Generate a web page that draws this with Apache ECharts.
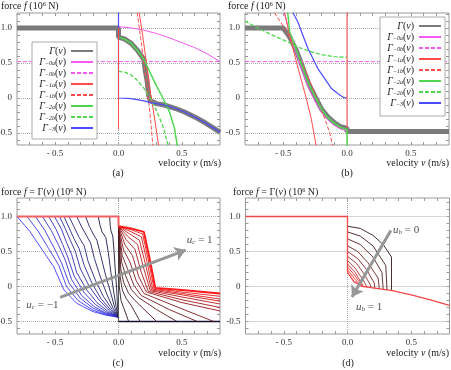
<!DOCTYPE html>
<html>
<head>
<meta charset="utf-8">
<script src="https://cdn.jsdelivr.net/npm/echarts@6/dist/echarts.min.js"></script>
<style>
  html, body { margin: 0; padding: 0; background: #fff; }
  #chart { width: 451px; height: 370px; }
</style>
</head>
<body>
<div id="chart"></div>
<script>
// ---------- axes ----------
const xLabelValues = [-0.5, 0, 0.5];
const xLabelTexts = ['- 0.5', '0.0', '0.5'];
const yLabelValues = [-0.5, 0, 0.5, 1];
const yLabelTexts = ['-0.5', '0', '0.5', '1.0'];
const xTickValues = [-0.7, -0.6, -0.5, -0.4, -0.3, -0.2, -0.1, 0, 0.1, 0.2, 0.3, 0.4, 0.5, 0.6, 0.7];
const yTickValues = [-0.6, -0.5, -0.4, -0.3, -0.2, -0.1, 0, 0.1, 0.2, 0.3, 0.4, 0.5, 0.6, 0.7, 0.8, 0.9, 1.0, 1.1, 1.2];
const yGridValues = [-0.5, 0, 0.5, 1];
const xGridValues = [0];

// ---------- panel (a) ----------
const legendSubs = ['', '−0a', '−0b', '−1a', '−1b', '−2a', '−2b', '−3'];
const aGamma = [[-0.8, 1.0], [0, 1.0], [0, 0.87], [0.05, 0.84], [0.1, 0.78], [0.15, 0.68], [0.2, 0.55], [0.21, 0.4], [0.225, 0.25], [0.237, 0.04], [0.25, -0.04], [0.265, -0.065], [0.3, -0.08], [0.36, -0.1], [0.45, -0.15], [0.52, -0.2], [0.6, -0.27], [0.68, -0.35], [0.75, -0.43], [0.8, -0.49]];
const aG0a = [[0, 1.02], [0.1, 1.0], [0.2, 0.97], [0.3, 0.92], [0.4, 0.86], [0.5, 0.79], [0.6, 0.72], [0.7, 0.63], [0.8, 0.52]];
const aG0b = [[-0.8, 0.52], [0.8, 0.52]];
const aG1a = [[0.163, 1.22], [0.19, 0.9], [0.22, 0.5], [0.25, 0.1], [0.285, -0.3], [0.318, -0.7]];
const aG1b = [[0.148, 1.22], [0.175, 0.85], [0.2, 0.5], [0.225, 0.15], [0.25, -0.25], [0.272, -0.7]];
const aG2a = [[0, 0.87], [0.05, 0.84], [0.1, 0.78], [0.15, 0.68], [0.2, 0.55], [0.25, 0.36], [0.3, 0.17], [0.35, 0.0], [0.4, -0.19], [0.44, -0.42], [0.465, -0.7]];
const aG2b = [[0, 0.38], [0.05, 0.37], [0.1, 0.33], [0.15, 0.25], [0.2, 0.14], [0.25, 0.0], [0.3, -0.18], [0.35, -0.4], [0.395, -0.7]];
const aG3 = [[0, 1.25], [0, 0.0], [0.1, -0.01], [0.2, -0.04], [0.26, -0.07], [0.3, -0.08], [0.36, -0.1], [0.45, -0.15], [0.52, -0.2], [0.6, -0.27], [0.68, -0.35], [0.75, -0.43], [0.8, -0.49]];
const aRedVertical = [[0, 1.0], [0, -0.45]];

// ---------- panel (b) ----------
const bGamma = [[-0.8, 1.0], [-0.5, 1.0], [-0.45, 0.87], [-0.4, 0.69], [-0.35, 0.45], [-0.3, 0.2], [-0.25, 0.02], [-0.2, -0.16], [-0.15, -0.27], [-0.1, -0.35], [-0.05, -0.41], [0, -0.43], [0, -0.48], [0.8, -0.48]];
const bG0a = [[-0.49, 1.22], [-0.45, 0.92], [-0.4, 0.65], [-0.35, 0.38], [-0.3, 0.14], [-0.25, -0.05], [-0.2, -0.2], [-0.15, -0.31], [-0.1, -0.39], [-0.05, -0.44], [0, -0.47]];
const bG0b = [[-0.8, 0.52], [0.8, 0.52]];
const bG1a = [[-0.49, 1.22], [-0.44, 0.82], [-0.38, 0.4], [-0.32, 0.0], [-0.28, -0.3], [-0.24, -0.7]];
const bG1b = [[-0.57, 1.22], [-0.48, 0.97], [-0.41, 0.73], [-0.34, 0.45], [-0.28, 0.19], [-0.22, -0.08], [-0.17, -0.32], [-0.135, -0.5], [-0.11, -0.7]];
const bG2a = [[-0.465, 1.22], [-0.45, 0.95], [-0.4, 0.7], [-0.35, 0.45], [-0.3, 0.2], [-0.25, 0.02], [-0.2, -0.16], [-0.15, -0.28], [-0.1, -0.36], [-0.05, -0.42], [0, -0.45], [0, -0.7]];
const bG2b = [[-0.8, 1.1], [-0.7, 1.0], [-0.6, 0.91], [-0.5, 0.83], [-0.4, 0.74], [-0.3, 0.67], [-0.2, 0.62], [-0.1, 0.59], [0, 0.58]];
const bG3 = [[-0.425, 1.22], [-0.386, 1.09], [-0.347, 0.9], [-0.307, 0.71], [-0.25, 0.5], [-0.229, 0.42], [-0.18, 0.29], [-0.124, 0.14], [-0.07, 0.06], [-0.03, 0.01], [0, 0.0]];
const bRedVertical = [[0, 1.25], [0, -0.43]];

// ---------- panel (c) ----------
const cLeft = [
  [[-0.8, 1], [-0.7, 0.79], [-0.6, 0.52], [-0.51, 0.28], [-0.43, -0.05], [-0.33, -0.24], [-0.2, -0.36], [-0.1, -0.41], [0, -0.44]],
  [[-0.72, 1], [-0.63, 0.78], [-0.55, 0.54], [-0.47, 0.3], [-0.41, 0.0], [-0.32, -0.2], [-0.2, -0.34], [-0.1, -0.4], [0, -0.44]],
  [[-0.655, 1], [-0.58, 0.8], [-0.51, 0.56], [-0.45, 0.34], [-0.39, 0.05], [-0.3, -0.17], [-0.2, -0.31], [-0.1, -0.39], [0, -0.44]],
  [[-0.6, 1], [-0.53, 0.8], [-0.47, 0.58], [-0.42, 0.38], [-0.37, 0.1], [-0.29, -0.13], [-0.19, -0.29], [-0.1, -0.38], [0, -0.44]],
  [[-0.55, 1], [-0.49, 0.81], [-0.44, 0.6], [-0.4, 0.42], [-0.35, 0.15], [-0.27, -0.09], [-0.18, -0.26], [-0.09, -0.37], [0, -0.44]],
  [[-0.505, 1], [-0.45, 0.82], [-0.41, 0.63], [-0.37, 0.46], [-0.33, 0.2], [-0.25, -0.05], [-0.17, -0.23], [-0.08, -0.36], [0, -0.44]],
  [[-0.465, 1], [-0.42, 0.83], [-0.38, 0.66], [-0.34, 0.5], [-0.3, 0.25], [-0.23, 0.0], [-0.15, -0.2], [-0.07, -0.35], [0, -0.44]],
  [[-0.43, 1], [-0.39, 0.84], [-0.35, 0.68], [-0.31, 0.54], [-0.27, 0.3], [-0.21, 0.05], [-0.14, -0.17], [-0.06, -0.34], [0, -0.44]],
  [[-0.39, 1], [-0.35, 0.85], [-0.31, 0.7], [-0.27, 0.58], [-0.24, 0.36], [-0.18, 0.08], [-0.12, -0.14], [-0.05, -0.33], [0, -0.44]],
  [[-0.33, 1], [-0.29, 0.85], [-0.25, 0.72], [-0.22, 0.62], [-0.19, 0.4], [-0.14, 0.12], [-0.09, -0.12], [-0.04, -0.32], [0, -0.44]],
  [[-0.26, 1], [-0.23, 0.86], [-0.2, 0.75], [-0.17, 0.66], [-0.14, 0.44], [-0.1, 0.15], [-0.06, -0.1], [-0.03, -0.3], [0, -0.44]],
  [[-0.16, 1], [-0.145, 0.87], [-0.13, 0.78], [-0.1, 0.7], [-0.08, 0.48], [-0.06, 0.2], [-0.04, -0.05], [-0.02, -0.28], [0, -0.44]],
  [[-0.07, 1], [-0.065, 0.87], [-0.06, 0.8], [-0.045, 0.72], [-0.035, 0.5], [-0.025, 0.22], [-0.015, -0.02], [-0.008, -0.27], [0, -0.44]]
];
const cRight = [
  [[0, 0.86], [0.006, 0.0], [0.02, -0.2], [0.04, -0.3], [0.08, -0.5]],
  [[0, 0.86], [0.012, 0.15], [0.03, -0.05], [0.06, -0.17], [0.1, -0.27], [0.17, -0.5]],
  [[0, 0.86], [0.018, 0.25], [0.04, 0.06], [0.08, -0.1], [0.13, -0.2], [0.3, -0.5]],
  [[0, 0.86], [0.025, 0.35], [0.055, 0.16], [0.1, -0.04], [0.16, -0.16], [0.3, -0.33], [0.46, -0.5]],
  [[0, 0.86], [0.03, 0.44], [0.07, 0.26], [0.12, 0.02], [0.18, -0.13], [0.4, -0.33], [0.62, -0.5]],
  [[0, 0.86], [0.04, 0.52], [0.09, 0.35], [0.14, 0.08], [0.2, -0.1], [0.5, -0.32], [0.75, -0.5]],
  [[0, 0.86], [0.05, 0.6], [0.11, 0.44], [0.16, 0.14], [0.22, -0.08], [0.5, -0.23], [0.8, -0.35]],
  [[0, 0.86], [0.06, 0.67], [0.13, 0.53], [0.18, 0.2], [0.235, -0.07], [0.5, -0.19], [0.8, -0.3]],
  [[0, 0.86], [0.07, 0.72], [0.15, 0.6], [0.2, 0.25], [0.25, -0.06], [0.5, -0.15], [0.8, -0.25]],
  [[0, 0.86], [0.08, 0.76], [0.165, 0.66], [0.215, 0.3], [0.26, -0.05], [0.5, -0.12], [0.8, -0.21]],
  [[0, 0.86], [0.09, 0.79], [0.18, 0.71], [0.225, 0.35], [0.27, -0.04], [0.5, -0.1], [0.8, -0.18]],
  [[0, 0.86], [0.1, 0.81], [0.19, 0.75], [0.235, 0.38], [0.28, -0.03], [0.5, -0.08], [0.8, -0.14]],
  [[0, 0.86], [0.1, 0.83], [0.2, 0.78], [0.245, 0.4], [0.29, -0.02], [0.5, -0.05], [0.8, -0.1]]
];
const cTop = [[-0.8, 1], [0, 1], [0, 0.86]];
const cAxisDrop = [[0, 0.86], [0, -0.5]];
const cBottom = [[0, -0.5], [0.8, -0.5]];
const cArrow = [[-0.46, -0.155], [0.53, 0.52]];
const cLabelHigh = [0.64, 0.66];
const cLabelLow = [-0.6, -0.26];

// ---------- panel (d) ----------
const dCurves = [
  [[0, 0.86], [0.1, 0.83], [0.2, 0.73], [0.28, 0.6], [0.345, 0.42], [0.345, -0.06]],
  [[0, 0.78], [0.1, 0.72], [0.2, 0.58], [0.3, 0.3], [0.31, -0.05]],
  [[0, 0.68], [0.1, 0.6], [0.2, 0.42], [0.27, 0.2], [0.28, -0.045]],
  [[0, 0.58], [0.08, 0.5], [0.16, 0.34], [0.24, 0.12], [0.25, -0.04]],
  [[0, 0.5], [0.08, 0.4], [0.15, 0.24], [0.21, 0.05], [0.215, -0.03]],
  [[0, 0.43], [0.07, 0.33], [0.13, 0.18], [0.18, 0.02], [0.185, -0.025]],
  [[0, 0.37], [0.06, 0.26], [0.12, 0.1], [0.155, -0.015]],
  [[0, 0.32], [0.06, 0.2], [0.13, -0.012]],
  [[0, 0.28], [0.06, 0.15], [0.12, -0.008]],
  [[0, 0.24], [0.06, 0.1], [0.11, -0.005]]
];
const dRed = [[-0.8, 1], [0, 1], [0, 0.2], [0.05, 0.07], [0.12, 0], [0.2, -0.02], [0.35, -0.06], [0.5, -0.12], [0.65, -0.19], [0.8, -0.27]];
const dArrow = [[0.34, 0.8], [0.035, -0.15]];
const dLabelTop = [0.46, 0.81];
const dLabelBottom = [0.17, -0.3];

// ---------- layout & styles ----------
const serif = 'Liberation Serif';
const panels = [
  { left: 17, top: 13, width: 203, height: 132, ymin: -0.671, ymax: 1.214 },
  { left: 245, top: 13, width: 204, height: 132, ymin: -0.671, ymax: 1.214 },
  { left: 17, top: 198, width: 203, height: 136, ymin: -0.679, ymax: 1.264 },
  { left: 245.5, top: 198, width: 204, height: 136, ymin: -0.679, ymax: 1.264 }
];
const GRAY = '#7b7b7b', MAG = '#f25cf2', RED = '#ff4d4d', GREEN = '#4fd84f', BLUE = '#4b4bff';

const grid = [], xAxis = [], yAxis = [], series = [];

panels.forEach((p, i) => {
  grid.push({ left: p.left, top: p.top, width: p.width, height: p.height, show: true,
    borderColor: '#9a9a9a', borderWidth: 1, outerBoundsMode: 'none', containLabel: false });
  ['bottom', 'top'].forEach(pos => {
    xAxis.push({
      type: 'value', gridIndex: i, position: pos, min: -0.8, max: 0.8,
      axisLine: { show: false, onZero: false }, splitLine: { show: false },
      axisTick: { show: true, inside: true, length: 3, customValues: xTickValues, lineStyle: { color: '#999' } },
      axisLabel: {
        show: pos === 'bottom', customValues: xLabelValues, margin: 4,
        fontFamily: serif, fontSize: 9, color: '#333',
        formatter: v => { const k = xLabelValues.indexOf(v); return k >= 0 ? xLabelTexts[k] : ''; }
      }
    });
  });
  ['left', 'right'].forEach(pos => {
    yAxis.push({
      type: 'value', gridIndex: i, position: pos, min: p.ymin, max: p.ymax,
      axisLine: { show: false, onZero: false }, splitLine: { show: false },
      axisTick: { show: true, inside: true, length: 3, customValues: yTickValues, lineStyle: { color: '#999' } },
      axisLabel: {
        show: pos === 'left', customValues: yLabelValues, margin: 5,
        fontFamily: serif, fontSize: 9, color: '#333',
        formatter: v => { const k = yLabelValues.indexOf(v); return k >= 0 ? yLabelTexts[k] : ''; }
      }
    });
  });
  // dotted reference lines, kept under the curves
  series.push({
    type: 'line', xAxisIndex: i * 2, yAxisIndex: i * 2, data: [], silent: true, z: 1,
    markLine: {
      silent: true, symbol: 'none', label: { show: false }, animation: false, z: 1,
      lineStyle: { type: 'dotted', color: '#aaa', width: 1 },
      data: yGridValues.map(v => ({ yAxis: v })).concat(xGridValues.map(v => ({ xAxis: v })))
    }
  });
});

function line(name, data, gi, color, width, dash, z) {
  return {
    type: 'line', name: name, data: data, xAxisIndex: gi * 2, yAxisIndex: gi * 2,
    showSymbol: false, symbol: 'none', silent: true, animation: false, z: z || 2,
    lineStyle: { color: color, width: width, type: dash || 'solid' },
    itemStyle: { color: color }
  };
}

function mix(c1, c2, t) {
  const r = Math.round(c1[0] + (c2[0] - c1[0]) * t);
  const g = Math.round(c1[1] + (c2[1] - c1[1]) * t);
  const b = Math.round(c1[2] + (c2[2] - c1[2]) * t);
  return 'rgb(' + r + ',' + g + ',' + b + ')';
}

// panel (a)
const aData = [aGamma, aG0a, aG0b, aG1a, aG1b, aG2a, aG2b, aG3];
const curveColors = [GRAY, MAG, MAG, RED, RED, GREEN, GREEN, BLUE];
const curveDash = ['solid', 'solid', [4, 2], 'solid', [4, 2], 'solid', [4, 2], 'solid'];
const curveWidth = [5, 1, 1, 1, 1, 1.5, 1.3, 1.2];
aData.forEach((d, k) => series.push(line('a' + legendSubs[k], d, 0, curveColors[k], curveWidth[k], curveDash[k])));
series.push(line('', aRedVertical, 0, RED, 1, 'solid', 3));

// panel (b)
const bData = [bGamma, bG0a, bG0b, bG1a, bG1b, bG2a, bG2b, bG3];
bData.forEach((d, k) => series.push(line('b' + legendSubs[k], d, 1, curveColors[k], curveWidth[k], curveDash[k])));
series.push(line('', bRedVertical, 1, RED, 1, 'solid', 3));

// panel (c)
cLeft.forEach((d, k) => series.push(line('', d, 2, mix([60, 60, 255], [25, 25, 60], k / (cLeft.length - 1)), 0.9)));
series.push(line('', cAxisDrop, 2, '#555', 1));
series.push(line('', cBottom, 2, '#1c1030', 1.6, 'solid', 3));
cRight.forEach((d, k) => series.push(line('', d, 2, mix([45, 25, 30], [255, 25, 25], k / (cRight.length - 1)), k === cRight.length - 1 ? 2 : 0.9, 'solid', 2 + k * 0.01)));
series.push(line('', cTop, 2, '#f36060', 2, 'solid', 3));

// panel (d)
dCurves.forEach((d, k) => series.push(line('', d, 3, mix([45, 25, 25], [240, 50, 50], k / (dCurves.length - 1)), 0.9)));
series.push(line('', dRed, 3, '#f34848', 1.3, 'solid', 3));

// arrows
[[cArrow, 2], [dArrow, 3]].forEach(([arr, gi]) => series.push({
  type: 'lines', coordinateSystem: 'cartesian2d', xAxisIndex: gi * 2, yAxisIndex: gi * 2,
  symbol: ['none', 'arrow'], symbolSize: 11, silent: true, animation: false, z: 6,
  lineStyle: { color: '#979797', width: 3, opacity: 1 },
  data: [{ coords: arr }]
}));

// arrow labels
const labelRich = {
  i: { fontFamily: serif, fontStyle: 'italic', fontSize: 11, color: '#222' },
  s: { fontFamily: serif, fontStyle: 'italic', fontSize: 7, color: '#222', verticalAlign: 'bottom', padding: [4, 0, 0, 0] },
  n: { fontFamily: serif, fontSize: 11, color: '#222' }
};
[[cLabelHigh, 2, '{i|u}{s|c}{n| = 1}'], [cLabelLow, 2, '{i|u}{s|c}{n| = −1}'],
 [dLabelTop, 3, '{i|u}{s|b}{n| = 0}'], [dLabelBottom, 3, '{i|u}{s|b}{n| = 1}']].forEach(([pos, gi, txt]) => series.push({
  type: 'scatter', xAxisIndex: gi * 2, yAxisIndex: gi * 2, symbolSize: 0, silent: true, z: 7,
  data: [pos], label: { show: true, position: 'inside', formatter: txt, rich: labelRich }
}));

// legends
function legendText(name) {
  const sub = name.slice(1);
  return '{g|Γ}' + (sub ? '{s|' + sub + '}' : '') + '{p|(}{g|v}{p|)}';
}
const legendRich = {
  g: { fontFamily: serif, fontStyle: 'italic', fontSize: 10, color: '#222', lineHeight: 9 },
  s: { fontFamily: serif, fontStyle: 'italic', fontSize: 6, color: '#222', verticalAlign: 'bottom', lineHeight: 9, padding: [3, 0, 0, 0] },
  p: { fontFamily: serif, fontSize: 10, color: '#222', lineHeight: 9 }
};
function legendFor(prefix, left, top, padBottom) {
  return {
    data: legendSubs.map(s => prefix + s), left: left, top: top, orient: 'vertical', align: 'right',
    itemWidth: 22, itemHeight: 8, itemGap: 1, padding: [4, 3, padBottom, 3], selectedMode: false,
    backgroundColor: '#fff', borderColor: '#aaa', borderWidth: 1,
    itemStyle: { opacity: 0 },
    formatter: legendText, textStyle: { width: 31, lineHeight: 9, rich: legendRich }
  };
}

// texts
const textRich = {
  i: { fontFamily: serif, fontStyle: 'italic', fontSize: 10, fill: '#222' },
  sup: { fontFamily: serif, fontSize: 6, fill: '#222', verticalAlign: 'top' },
  n: { fontFamily: serif, fontSize: 10, fill: '#222' }
};
function txt(x, y, text, align) {
  return { type: 'text', x: x, y: y, silent: true, z: 10,
    style: { text: text, rich: textRich, fontFamily: serif, fontSize: 10, fill: '#222', align: align || 'left', verticalAlign: 'middle' } };
}
const forceTop = '{n|force }{i|f}{n| (10}{sup|6}{n| N)}';
const forceBottom = '{n|force }{i|f}{n| = Γ(}{i|v}{n|) (10}{sup|6}{n| N)}';
const velocity = '{n|velocity }{i|v}{n| (m/s)}';

const option = {
  animation: false,
  grid: grid, xAxis: xAxis, yAxis: yAxis,
  legend: [legendFor('a', 32, 42, 6), legendFor('b', 380, 17, 8)],
  series: series,
  graphic: { elements: [
    txt(1, 6, forceTop), txt(228, 6, forceTop),
    txt(1, 192, forceBottom), txt(233, 192, forceBottom),
    txt(221, 163, velocity, 'right'), txt(449, 163, velocity, 'right'),
    txt(221, 353, velocity, 'right'), txt(449, 353, velocity, 'right'),
    txt(118, 173, '{n|(a)}', 'center'), txt(347, 173, '{n|(b)}', 'center'),
    txt(118, 363, '{n|(c)}', 'center'), txt(348, 363, '{n|(d)}', 'center')
  ] }
};

const chart = echarts.init(document.getElementById('chart'), null, { renderer: 'canvas' });
chart.setOption(option);
</script>
</body>
</html>
